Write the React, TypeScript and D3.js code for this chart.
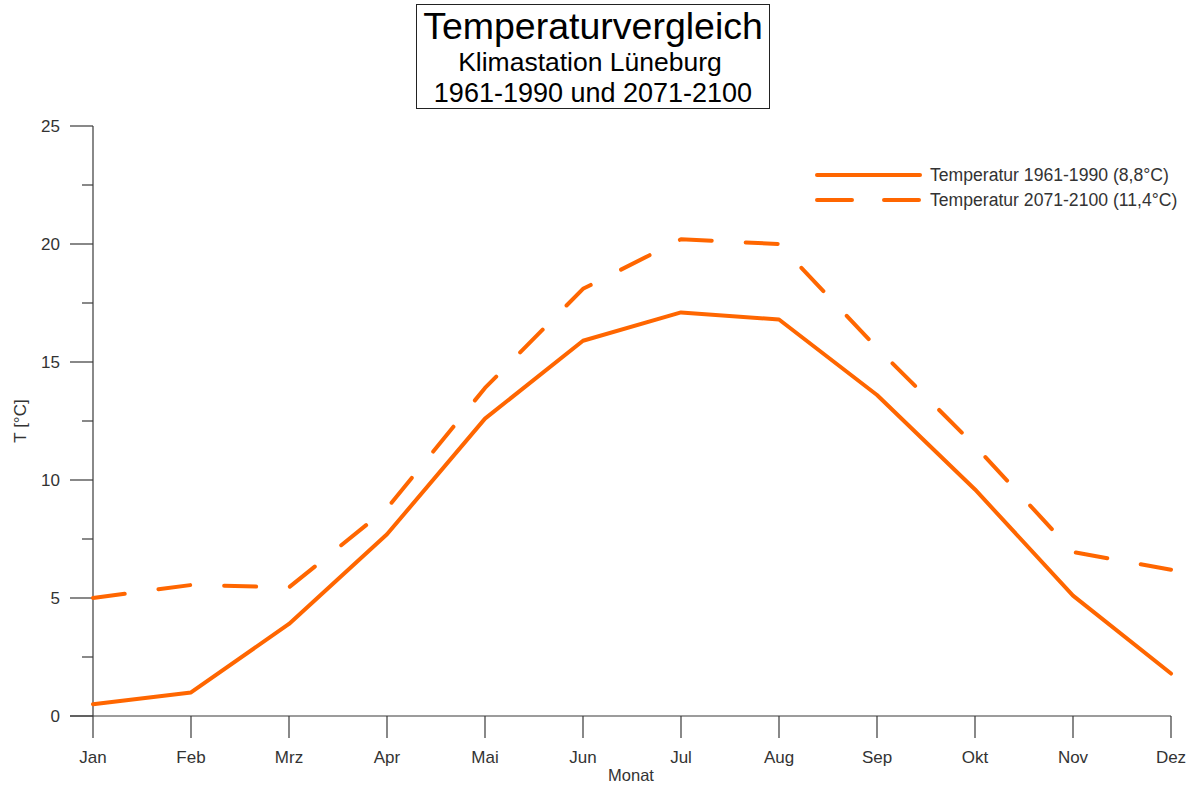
import React from "react";
import * as d3 from "d3";

const months = ["Jan", "Feb", "Mrz", "Apr", "Mai", "Jun", "Jul", "Aug", "Sep", "Okt", "Nov", "Dez"];
const temp1961 = [0.5, 1.0, 3.9, 7.7, 12.6, 15.9, 17.1, 16.8, 13.6, 9.6, 5.1, 1.8];
const temp2071 = [5.0, 5.55, 5.45, 8.8, 13.9, 18.1, 20.2, 20.0, 15.6, 11.45, 6.95, 6.2];
const yTicksMajor = [0, 5, 10, 15, 20, 25];
const yTicksMinor = [2.5, 7.5, 12.5, 17.5, 22.5];
const seriesNames = ["Temperatur 1961-1990 (8,8°C)", "Temperatur 2071-2100 (11,4°C)"];
const titleLines = ["Temperaturvergleich", "Klimastation Lüneburg", "1961-1990 und 2071-2100"];

const W = 1194;
const H = 786;
const FONT = "'Liberation Sans', Arial, sans-serif";
const ORANGE = "#ff6600";
const AXIS = "#3a3a3a";

export default function App() {
  const x = d3.scalePoint<string>().domain(months).range([93, 1171]);
  const y = d3.scaleLinear().domain([0, 25]).range([716, 126]);
  const line = d3
    .line<number>()
    .x((_, i) => x(months[i]) as number)
    .y((d) => y(d));

  return (
    <svg
      width={W}
      height={H}
      style={{ position: "absolute", left: 0, top: 0, background: "#fff" }}
      fontFamily={FONT}
    >
      {/* Title box */}
      <rect x={416.5} y={4.5} width={353} height={104} fill="#fff" stroke="#222" strokeWidth={1} />
      <text x={593} y={39} textAnchor="middle" fontSize={37.5} fill="#000">
        {titleLines[0]}
      </text>
      <text x={590} y={71} textAnchor="middle" fontSize={26.5} fill="#000">
        {titleLines[1]}
      </text>
      <text x={593} y={102} textAnchor="middle" fontSize={27} fill="#000">
        {titleLines[2]}
      </text>

      {/* Y axis */}
      <line x1={93} x2={93} y1={y(25)} y2={y(0)} stroke={AXIS} strokeWidth={1.2} />
      {yTicksMajor.map((t) => (
        <g key={"ym" + t}>
          <line x1={70} x2={93} y1={y(t)} y2={y(t)} stroke={AXIS} strokeWidth={1.2} />
          <text x={60} y={y(t)} dy="0.35em" textAnchor="end" fontSize={17} fill="#333">
            {t}
          </text>
        </g>
      ))}
      {yTicksMinor.map((t) => (
        <line key={"yn" + t} x1={82} x2={93} y1={y(t)} y2={y(t)} stroke={AXIS} strokeWidth={1.2} />
      ))}
      <text
        transform={`translate(26,${421}) rotate(-90)`}
        textAnchor="middle"
        fontSize={17}
        fill="#333"
      >
        T [°C]
      </text>

      {/* X axis */}
      <line x1={70} x2={x("Dez") as number} y1={y(0)} y2={y(0)} stroke={AXIS} strokeWidth={1.2} />
      {months.map((m) => (
        <g key={m}>
          <line x1={x(m) as number} x2={x(m) as number} y1={y(0)} y2={y(0) + 22} stroke={AXIS} strokeWidth={1.2} />
          <text x={x(m) as number} y={763} textAnchor="middle" fontSize={17} fill="#333">
            {m}
          </text>
        </g>
      ))}
      <text x={631} y={781} textAnchor="middle" fontSize={16.5} fill="#333">
        Monat
      </text>

      {/* Series */}
      <path
        d={line(temp1961) || ""}
        fill="none"
        stroke={ORANGE}
        strokeWidth={4}
        strokeLinecap="round"
        strokeLinejoin="round"
      />
      <path
        d={line(temp2071) || ""}
        fill="none"
        stroke={ORANGE}
        strokeWidth={4}
        strokeLinecap="round"
        strokeLinejoin="round"
        strokeDasharray="32 34"
      />

      {/* Legend */}
      <line x1={817} x2={920} y1={175} y2={175} stroke={ORANGE} strokeWidth={4} strokeLinecap="round" />
      <line
        x1={817}
        x2={920}
        y1={200}
        y2={200}
        stroke={ORANGE}
        strokeWidth={4}
        strokeLinecap="round"
        strokeDasharray="35 32"
      />
      <text x={930} y={175} dy="0.35em" fontSize={17.6} fill="#333">
        {seriesNames[0]}
      </text>
      <text x={930} y={200} dy="0.35em" fontSize={17.6} fill="#333">
        {seriesNames[1]}
      </text>
    </svg>
  );
}
